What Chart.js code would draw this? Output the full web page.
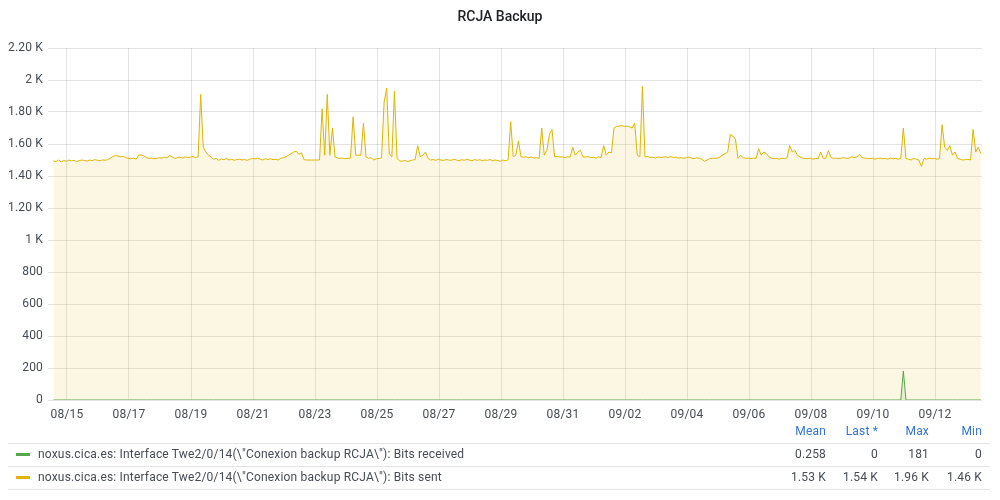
<!DOCTYPE html>
<html>
<head>
<meta charset="utf-8">
<script src="https://cdn.jsdelivr.net/npm/chart.js@4/dist/chart.umd.min.js"></script>
<style>
html,body{margin:0;padding:0;background:#fff;}
#wrap{position:relative;width:1000px;height:500px;font-family:Roboto,"Noto Sans",sans-serif;overflow:hidden;}
#c{position:absolute;left:0;top:0;}
#title{position:absolute;left:0;width:1000px;top:7px;text-align:center;font-size:14px;line-height:18px;font-weight:500;color:#202226;}
.t{position:absolute;font-size:12px;line-height:14px;color:#464c54;white-space:nowrap;letter-spacing:0.18px;}
.hd{color:#3274d9;text-align:right;}
.num{text-align:right;}
.rule{position:absolute;left:8px;width:982px;height:1px;background:#e4e4e4;}
.sw{position:absolute;left:16px;width:14px;height:3px;}
</style>
</head>
<body>
<div id="wrap">
<canvas id="c" width="1000" height="500"></canvas>
<div id="title"></div>
<div class="t hd" style="right:174px;top:424px;">Mean</div>
<div class="t hd" style="right:122px;top:424px;">Last *</div>
<div class="t hd" style="right:71px;top:424px;">Max</div>
<div class="t hd" style="right:18px;top:424px;">Min</div>
<div class="rule" style="top:443px;"></div>
<div class="sw" style="top:453px;background:#56a64b;"></div>
<div class="t" id="lab0" style="left:38px;top:447px;"></div>
<div class="t num" style="right:174px;top:447px;">0.258</div>
<div class="t num" style="right:122px;top:447px;">0</div>
<div class="t num" style="right:71px;top:447px;">181</div>
<div class="t num" style="right:18px;top:447px;">0</div>
<div class="rule" style="top:466px;"></div>
<div class="sw" style="top:476px;background:#e0b400;"></div>
<div class="t" id="lab1" style="left:38px;top:470px;"></div>
<div class="t num" style="right:174px;top:470px;">1.53 K</div>
<div class="t num" style="right:122px;top:470px;">1.54 K</div>
<div class="t num" style="right:71px;top:470px;">1.96 K</div>
<div class="t num" style="right:18px;top:470px;">1.46 K</div>
<div class="rule" style="top:489px;"></div>
</div>
<script>
// ---- data ----
const chartTitle = 'RCJA Backup';
const seriesNames = [
  'noxus.cica.es: Interface Twe2/0/14(\\"Conexion backup RCJA\\"): Bits received',
  'noxus.cica.es: Interface Twe2/0/14(\\"Conexion backup RCJA\\"): Bits sent'
];
// samples every 2 hours, first sample 08/14 13:30 (day offsets relative to 08/15 00:00)
const firstSampleDay = -0.4375;
const sampleStepHours = 2;

const bitsSent = [
  1495,1490,1500,1488,1497,1492,1500,1494,1498,1490,1496,1500,
  1497,1493,1500,1496,1502,1499,1495,1501,1498,1503,1510,1522,
  1528,1525,1520,1524,1515,1510,1508,1512,1505,1530,1532,1525,
  1515,1510,1512,1508,1510,1515,1512,1518,1514,1528,1520,1510,
  1515,1518,1512,1520,1516,1518,1522,1515,1520,1910,1580,1550,
  1530,1520,1505,1510,1498,1507,1502,1510,1500,1505,1498,1503,
  1505,1500,1503,1498,1505,1510,1507,1512,1505,1500,1508,1503,
  1508,1502,1505,1500,1510,1515,1520,1530,1540,1550,1555,1535,
  1545,1502,1500,1500,1500,1500,1500,1500,1820,1530,1910,1530,
  1700,1520,1512,1510,1512,1508,1510,1512,1770,1530,1530,1530,
  1730,1520,1510,1515,1500,1508,1510,1512,1860,1950,1540,1520,
  1930,1510,1495,1492,1498,1490,1495,1500,1502,1590,1520,1530,
  1550,1512,1500,1503,1498,1505,1500,1497,1503,1500,1498,1505,
  1500,1495,1502,1498,1505,1500,1495,1503,1498,1502,1496,1500,
  1498,1503,1495,1500,1497,1492,1500,1495,1502,1740,1520,1530,
  1620,1520,1518,1520,1515,1518,1512,1515,1510,1700,1530,1560,
  1660,1690,1520,1522,1518,1520,1515,1520,1518,1580,1530,1550,
  1560,1520,1518,1522,1515,1518,1512,1520,1515,1590,1530,1550,
  1545,1700,1710,1712,1715,1710,1712,1708,1700,1730,1530,1520,
  1960,1520,1522,1515,1518,1512,1520,1515,1518,1520,1515,1522,
  1515,1518,1512,1515,1510,1515,1518,1512,1508,1515,1510,1505,
  1492,1500,1508,1512,1510,1512,1520,1530,1540,1550,1660,1650,
  1630,1510,1530,1515,1510,1512,1508,1512,1510,1570,1530,1550,
  1540,1520,1512,1508,1510,1505,1512,1508,1515,1590,1550,1560,
  1530,1520,1512,1510,1508,1512,1505,1510,1508,1550,1510,1512,
  1560,1515,1510,1512,1508,1512,1515,1510,1512,1520,1515,1518,
  1535,1515,1512,1510,1508,1512,1505,1510,1512,1508,1510,1505,
  1512,1508,1510,1505,1510,1700,1510,1505,1500,1510,1505,1500,
  1460,1510,1505,1512,1508,1510,1505,1510,1720,1580,1560,1590,
  1530,1550,1510,1505,1500,1502,1505,1500,1690,1550,1580,1540
];
// received: zero except one spike (sample index 329)
const receivedSpikeIndex = 329;
const receivedSpikeValue = 181;

const xTickLabels = ['08/15','08/17','08/19','08/21','08/23','08/25','08/27','08/29','08/31','09/02','09/04','09/06','09/08','09/10','09/12'];
const yTickValues = [0,200,400,600,800,1000,1200,1400,1600,1800,2000,2200];
const yTickLabels = ['0','200','400','600','800','1 K','1.20 K','1.40 K','1.60 K','1.80 K','2 K','2.20 K'];
const xMinDay = -0.4516, xMaxDay = 29.516;

// ---- build ----
document.getElementById('title').textContent = chartTitle;
document.getElementById('lab0').textContent = seriesNames[0];
document.getElementById('lab1').textContent = seriesNames[1];

function labelToDay(lbl){
  const [m,d] = lbl.split('/').map(Number);
  return m === 8 ? d - 15 : 16 + d;
}
const xTickDays = xTickLabels.map(labelToDay);
const sampleDay = i => firstSampleDay + i * sampleStepHours / 24;
const sentPts = bitsSent.map((v,i)=>({x: sampleDay(i), y: v}));
const recvPts = bitsSent.map((v,i)=>({x: sampleDay(i), y: i === receivedSpikeIndex ? receivedSpikeValue : 0}));

const gridColor = 'rgba(0,0,0,0.11)';
const tickFont = {family:'Roboto', size:12};
const spacingPlugin = {id:'spacing', beforeDraw(chart){ try{ chart.ctx.letterSpacing = '0.18px'; }catch(e){} }};
new Chart(document.getElementById('c'), {
  type:'line',
  plugins:[spacingPlugin],
  data:{datasets:[
    {label:seriesNames[0], data:recvPts, borderColor:'#56a64b', backgroundColor:'rgba(86,166,75,0.12)', fill:'origin', borderWidth:1, pointRadius:0, tension:0},
    {label:seriesNames[1], data:sentPts, borderColor:'#e0b400', backgroundColor:'rgba(224,180,0,0.11)', fill:'origin', borderWidth:1, pointRadius:0, tension:0}
  ]},
  options:{
    responsive:false, animation:false, events:[],
    layout:{padding:{left:0,right:18,top:48,bottom:0}},
    plugins:{legend:{display:false}, tooltip:{enabled:false}, title:{display:false}},
    scales:{
      x:{type:'linear', min:xMinDay, max:xMaxDay,
        afterBuildTicks:s=>{s.ticks = xTickDays.map(v=>({value:v}));},
        afterFit:s=>{s.height = 100;},
        ticks:{callback:v=>xTickLabels[xTickDays.indexOf(v)], color:'#464c54', font:tickFont, padding:8, maxRotation:0, autoSkip:false},
        grid:{color:gridColor, drawTicks:false}, border:{display:false}},
      y:{min:0, max:2200,
        afterBuildTicks:s=>{s.ticks = yTickValues.map(v=>({value:v}));},
        afterFit:s=>{s.width = 53;},
        ticks:{callback:v=>yTickLabels[yTickValues.indexOf(v)], color:'#464c54', font:tickFont, padding:5},
        grid:{color:gridColor, tickLength:5}, border:{display:false}}
    }
  }
});
</script>
</body>
</html>
